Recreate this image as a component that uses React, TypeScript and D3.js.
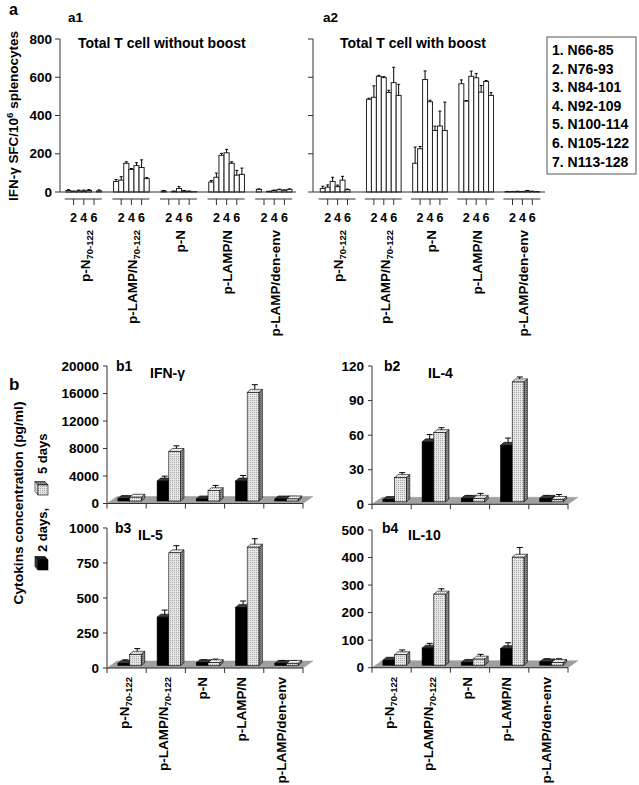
import React from 'react';
import * as d3 from 'd3';

// ---------- data ----------
const groupMain = ['p-N', 'p-LAMP/N', 'p-N', 'p-LAMP/N', 'p-LAMP/den-env'];
const groupSub = ['70-122', '70-122', '', '', ''];
const peptideLabels = ['1. N66-85', '2. N76-93', '3. N84-101', '4. N92-109', '5. N100-114', '6. N105-122', '7. N113-128'];
const subTickLabels = ['2', '4', '6'];
const aTicks = [0, 200, 400, 600, 800];

const a1Values = [
  [8, 2, 6, 5, 8, 0, 6],
  [55, 62, 150, 118, 138, 128, 70],
  [5, 0, 3, 18, 5, 3, 2],
  [52, 77, 192, 205, 150, 88, 92],
  [14, 0, 3, 8, 12, 9, 14],
];
const a1Errors = [
  [4, 3, 4, 5, 5, 0, 5],
  [10, 18, 8, 5, 15, 40, 5],
  [3, 0, 2, 10, 3, 2, 0],
  [8, 22, 10, 18, 8, 25, 33],
  [2, 0, 1, 2, 3, 2, 2],
];
const a2Values = [
  [18, 25, 55, 28, 62, 12, 0],
  [485, 495, 605, 598, 520, 572, 505],
  [150, 226, 588, 472, 322, 345, 322],
  [566, 475, 605, 597, 522, 578, 505],
  [2, 2, 3, 2, 6, 3, 1],
];
const a2Errors = [
  [12, 12, 22, 8, 20, 3, 0],
  [5, 60, 5, 5, 12, 80, 58],
  [85, 12, 45, 8, 22, 78, 148],
  [20, 3, 27, 23, 35, 5, 14],
  [1, 1, 1, 1, 2, 1, 1],
];

const cytokineNames = ['IFN-γ', 'IL-4', 'IL-5', 'IL-10'];
const b1Day2 = [350, 2900, 300, 2900, 300];
const b1Day2Err = [150, 500, 100, 600, 100];
const b1Day5 = [550, 7200, 1500, 15800, 300];
const b1Day5Err = [100, 600, 550, 900, 150];
const b2Day2 = [2, 52, 3, 49, 3];
const b2Day2Err = [0.5, 5, 1, 5, 1];
const b2Day5 = [21, 60, 3, 104, 2];
const b2Day5Err = [3, 3, 3, 3, 3];
const b3Day2 = [15, 345, 20, 415, 15];
const b3Day2Err = [15, 40, 10, 35, 10];
const b3Day5 = [80, 805, 20, 845, 15];
const b3Day5Err = [30, 40, 15, 50, 10];
const b4Day2 = [18, 62, 10, 60, 12];
const b4Day2Err = [3, 12, 3, 16, 6];
const b4Day5 = [38, 258, 22, 392, 10];
const b4Day5Err = [12, 14, 12, 30, 8];
const b1Ticks = [0, 4000, 8000, 12000, 16000, 20000];
const b2Ticks = [0, 30, 60, 90, 120];
const b3Ticks = [0, 250, 500, 750, 1000];
const b4Ticks = [0, 100, 200, 300, 400, 500];

// ---------- layout ----------
const FONT = '"Liberation Sans", Arial, Helvetica, sans-serif';
const AX = '#333';

const yA = d3.scaleLinear().domain([0, 800]).range([192, 39]);

const aPanels = [
  { values: a1Values, errors: a1Errors, r0: 60, r1: 298, axisX: 60, axisEnd: 296, label: 'a1', labelX: 68, title: 'Total T cell without boost', titleX: 78, tickLabels: true },
  { values: a2Values, errors: a2Errors, r0: 314.5, r1: 545.5, axisX: 313, axisEnd: 545, label: 'a2', labelX: 323, title: 'Total T cell with boost', titleX: 340, tickLabels: false },
];

const bPanels = [
  { x0: 107, domain: [0, 20000], range: [503.5, 366], ticks: b1Ticks, d2: b1Day2, e2: b1Day2Err, d5: b1Day5, e5: b1Day5Err, label: 'b1', lx: 116, ly: 366, nx: 150, ny: 373, name: cytokineNames[0], cats: false },
  { x0: 372, domain: [0, 120], range: [504.3, 366], ticks: b2Ticks, d2: b2Day2, e2: b2Day2Err, d5: b2Day5, e5: b2Day5Err, label: 'b2', lx: 384, ly: 366, nx: 428, ny: 373, name: cytokineNames[1], cats: false },
  { x0: 107, domain: [0, 1000], range: [668, 528], ticks: b3Ticks, d2: b3Day2, e2: b3Day2Err, d5: b3Day5, e5: b3Day5Err, label: 'b3', lx: 115, ly: 528, nx: 138, ny: 535, name: cytokineNames[2], cats: true },
  { x0: 372, domain: [0, 500], range: [667.7, 530], ticks: b4Ticks, d2: b4Day2, e2: b4Day2Err, d5: b4Day5, e5: b4Day5Err, label: 'b4', lx: 382, ly: 528, nx: 408, ny: 535, name: cytokineNames[3], cats: true },
];

function GroupLabel({ x, y, i }: { x: number; y: number; i: number }) {
  return (
    <text transform={`translate(${x},${y}) rotate(-90)`} textAnchor="end" dy="0.35em" fontSize={13.5} fontWeight="bold" fontFamily={FONT} fill="#000">
      {groupMain[i]}
      {groupSub[i] ? <tspan fontSize={9.5} dy={3}>{groupSub[i]}</tspan> : null}
    </text>
  );
}

function PanelA({ p }: { p: typeof aPanels[number] }) {
  const band = d3.scaleBand<number>().domain(d3.range(5)).range([p.r0, p.r1]);
  const bw = band.bandwidth();
  const barW = (bw * 0.75) / 7;
  const y0 = yA(0);
  return (
    <g>
      <line x1={p.axisX} x2={p.axisX} y1={y0} y2={yA(800)} stroke={AX} />
      {aTicks.map((t) => (
        <g key={t}>
          <line x1={p.axisX - 5} x2={p.axisX} y1={yA(t)} y2={yA(t)} stroke={AX} />
          {p.tickLabels ? (
            <text x={p.axisX - 8} y={yA(t)} dy="0.35em" textAnchor="end" fontSize={13.5} fontWeight="bold" fontFamily={FONT}>{t}</text>
          ) : null}
        </g>
      ))}
      {p.values.map((grp, g) => {
        const c = (band(g) as number) + bw / 2;
        return (
          <g key={g}>
            {grp.map((v, i) => {
              const x = c - 3.5 * barW + i * barW;
              const top = yA(v);
              const e = p.errors[g][i];
              return (
                <g key={i}>
                  <rect x={x} y={top} width={barW} height={Math.max(0, y0 - top)} fill="#fff" stroke="#222" strokeWidth={1} />
                  {e > 0 ? (
                    <g stroke="#000" strokeWidth={1}>
                      <line x1={x + barW / 2} x2={x + barW / 2} y1={top} y2={yA(v + e)} />
                      <line x1={x + barW / 2 - 1.5} x2={x + barW / 2 + 1.5} y1={yA(v + e)} y2={yA(v + e)} />
                    </g>
                  ) : null}
                </g>
              );
            })}
            <line x1={c - 19} x2={c + 18} y1={199} y2={199} stroke={AX} />
            {subTickLabels.map((s, k) => {
              const tx = c - 3.5 * barW + (1 + 2 * k) * barW + barW / 2;
              return (
                <g key={s}>
                  <line x1={tx} x2={tx} y1={199} y2={205} stroke={AX} />
                  <text x={tx} y={218} dy="0.35em" textAnchor="middle" fontSize={12.5} fontWeight="bold" fontFamily={FONT}>{s}</text>
                </g>
              );
            })}
            <GroupLabel x={c + 1} y={230} i={g} />
          </g>
        );
      })}
      <line x1={p.axisX} x2={p.axisEnd} y1={y0} y2={y0} stroke={AX} />
      <text x={p.labelX} y={17} dy="0.35em" fontSize={13.5} fontWeight="bold" fontFamily={FONT}>{p.label}</text>
      <text x={p.titleX} y={43} dy="0.35em" fontSize={14} fontWeight="bold" fontFamily={FONT}>{p.title}</text>
    </g>
  );
}

const DX = 3.5;
const DY = -3;

function Bar3D({ x, w, top, base, dark }: { x: number; w: number; top: number; base: number; dark: boolean }) {
  const front = dark ? '#000' : 'url(#dotsFront)';
  const topF = dark ? '#3a3a3a' : 'url(#dotsTop)';
  const side = dark ? '#1a1a1a' : 'url(#dotsSide)';
  const t = Math.min(top, base - 1);
  return (
    <g stroke="#000" strokeWidth={0.6}>
      <polygon points={`${x + w},${t} ${x + w + DX},${t + DY} ${x + w + DX},${base + DY} ${x + w},${base}`} fill={side} />
      <polygon points={`${x},${t} ${x + w},${t} ${x + w + DX},${t + DY} ${x + DX},${t + DY}`} fill={topF} />
      <rect x={x} y={t} width={w} height={base - t} fill={front} />
    </g>
  );
}

function PanelB({ p }: { p: typeof bPanels[number] }) {
  const y = d3.scaleLinear().domain(p.domain).range(p.range);
  const width = 196;
  const band = d3.scaleBand<number>().domain(d3.range(5)).range([p.x0, p.x0 + width]);
  const bw = band.bandwidth();
  const y0 = y(0);
  const barW = 11.7;
  const off = 2.5;
  const base = y0 - off;
  const yTop = p.range[1];
  return (
    <g>
      <polygon points={`${p.x0},${y0} ${p.x0 + width},${y0} ${p.x0 + width + 10},${y0 - 7} ${p.x0 + 10},${y0 - 7}`} fill="#a0a0a0" stroke="#999" strokeWidth={0.5} />
      <line x1={p.x0} x2={p.x0} y1={y0} y2={yTop} stroke={AX} />
      {p.ticks.map((t) => (
        <g key={t}>
          <line x1={p.x0 - 4} x2={p.x0} y1={y(t)} y2={y(t)} stroke={AX} />
          <text x={p.x0 - 8} y={y(t)} dy="0.35em" textAnchor="end" fontSize={13.5} fontWeight="bold" fontFamily={FONT}>{t}</text>
        </g>
      ))}
      {d3.range(5).map((c) => {
        const cx = (band(c) as number) + bw / 2 + 3;
        const v2 = p.d2[c];
        const v5 = p.d5[c];
        const t2 = y(v2) - off;
        const t5 = y(v5) - off;
        const ex2 = cx - barW / 2 + DX / 2;
        const ex5 = cx + barW / 2 + DX / 2;
        const ey2 = y(v2 + p.e2[c]) - off + DY / 2;
        const ey5 = y(v5 + p.e5[c]) - off + DY / 2;
        return (
          <g key={c}>
            <g stroke="#000" strokeWidth={1}>
              <line x1={ex2} x2={ex2} y1={t2 + DY / 2} y2={ey2} />
              <line x1={ex2 - 3} x2={ex2 + 3} y1={ey2} y2={ey2} />
            </g>
            <Bar3D x={cx - barW} w={barW} top={t2} base={base} dark={true} />
            <g stroke="#000" strokeWidth={1}>
              <line x1={ex5} x2={ex5} y1={t5 + DY / 2} y2={ey5} />
              <line x1={ex5 - 3} x2={ex5 + 3} y1={ey5} y2={ey5} />
            </g>
            <Bar3D x={cx} w={barW} top={t5} base={base} dark={false} />
          </g>
        );
      })}
      <line x1={p.x0} x2={p.x0 + width} y1={y0} y2={y0} stroke={AX} />
      {d3.range(6).map((k) => {
        const tx = p.x0 + k * bw;
        return <line key={k} x1={tx} x2={tx} y1={y0} y2={y0 + 5} stroke={AX} />;
      })}
      {p.cats
        ? d3.range(5).map((c) => <GroupLabel key={c} x={(band(c) as number) + bw / 2 - 2.5} y={677} i={c} />)
        : null}
      <text x={p.lx} y={p.ly} dy="0.35em" fontSize={14} fontWeight="bold" fontFamily={FONT}>{p.label}</text>
      <text x={p.nx} y={p.ny} dy="0.35em" fontSize={14} fontWeight="bold" fontFamily={FONT}>{p.name}</text>
    </g>
  );
}

function Cube({ x, y, dark }: { x: number; y: number; dark: boolean }) {
  const s = 10;
  const dx = -3;
  const dy = -3.5;
  return (
    <g stroke="#000" strokeWidth={0.6}>
      <polygon points={`${x},${y} ${x + s},${y} ${x + s + dx},${y + dy} ${x + dx},${y + dy}`} fill={dark ? '#1a1a1a' : 'url(#dotsSide)'} />
      <polygon points={`${x},${y} ${x + dx},${y + dy} ${x + dx},${y + s + dy} ${x},${y + s}`} fill={dark ? '#3a3a3a' : 'url(#dotsTop)'} />
      <rect x={x} y={y} width={s} height={s} fill={dark ? '#000' : 'url(#dotsFront)'} />
    </g>
  );
}

export default function App() {
  return (
    <svg width={639} height={785} style={{ position: 'absolute', left: 0, top: 0, background: '#fff' }} fontFamily={FONT}>
      <defs>
        <pattern id="dotsFront" width="2" height="2" patternUnits="userSpaceOnUse">
          <rect width="2" height="2" fill="#e6e6e6" />
          <rect width="1" height="1" fill="#a8a8a8" />
        </pattern>
        <pattern id="dotsTop" width="2" height="2" patternUnits="userSpaceOnUse">
          <rect width="2" height="2" fill="#f2f2f2" />
          <rect width="1" height="1" fill="#bdbdbd" />
        </pattern>
        <pattern id="dotsSide" width="2" height="2" patternUnits="userSpaceOnUse">
          <rect width="2" height="2" fill="#8a8a8a" />
          <rect width="1" height="1" fill="#555" />
        </pattern>
      </defs>
      <rect width={639} height={785} fill="#fff" />

      <text x={9} y={15} fontSize={16} fontWeight="bold">a</text>
      <text transform="translate(14,116) rotate(-90)" textAnchor="middle" dy="0.35em" fontSize={12.5} fontWeight="bold" textLength={170} lengthAdjust="spacingAndGlyphs">
        IFN-γ SFC/10<tspan fontSize={9} dy={-5}>6</tspan>
        <tspan dy={5}> splenocytes</tspan>
      </text>
      {aPanels.map((p) => (
        <PanelA key={p.label} p={p} />
      ))}
      <rect x={547} y={37} width={89} height={137} fill="#fff" stroke="#555" strokeWidth={1} />
      {peptideLabels.map((t, i) => (
        <text key={t} x={552} y={50 + i * 18.6} dy="0.35em" fontSize={14} fontWeight="bold">{t}</text>
      ))}

      <text x={9} y={390} fontSize={17} fontWeight="bold">b</text>
      <text transform="translate(18,503) rotate(-90)" textAnchor="middle" dy="0.35em" fontSize={13} fontWeight="bold" textLength={203} lengthAdjust="spacingAndGlyphs">
        Cytokins concentration (pg/ml)
      </text>
      <Cube x={38} y={560} dark={true} />
      <text transform="translate(42,552) rotate(-90)" dy="0.35em" fontSize={13} fontWeight="bold">2 days,</text>
      <Cube x={38} y={485} dark={false} />
      <text transform="translate(42,474) rotate(-90)" dy="0.35em" fontSize={13} fontWeight="bold">5 days</text>
      {bPanels.map((p) => (
        <PanelB key={p.label} p={p} />
      ))}
    </svg>
  );
}
